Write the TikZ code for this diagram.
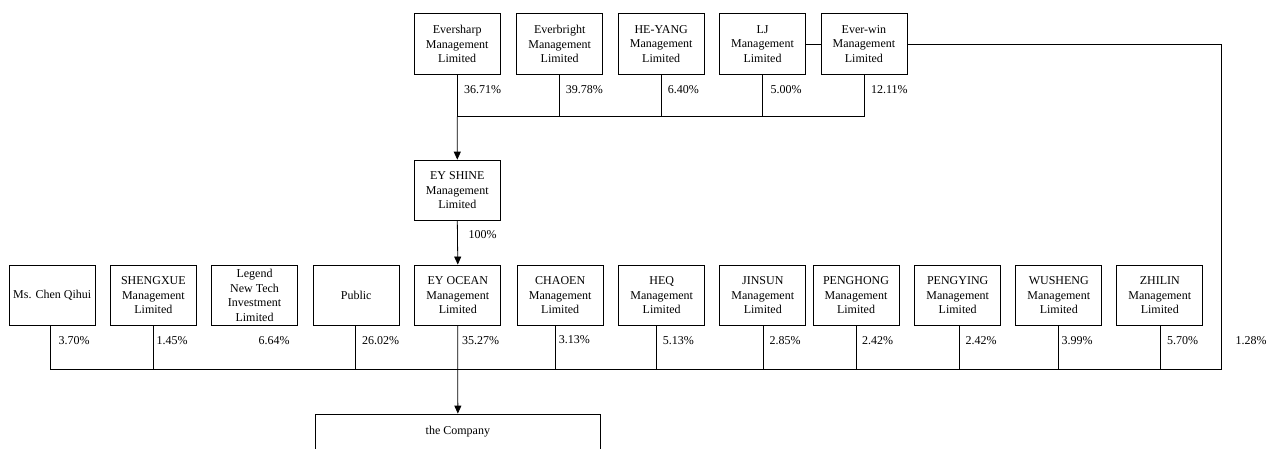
\documentclass[tikz,border=0pt]{standalone}
\usepackage{fontspec}
\setmainfont{Liberation Serif}
\usetikzlibrary{arrows.meta}
\begin{document}
\begin{tikzpicture}[x=1pt,y=-1pt,
  txt/.style={font=\fontsize{12}{14.5}\selectfont},
  box/.style={draw, line width=0.8pt, minimum width=86pt, minimum height=60.5pt, inner sep=0pt, align=center, txt},
  pct/.style={inner sep=0pt, txt},
  ln/.style={line width=0.8pt},
  arr/.style={line width=0.8pt, -{Triangle[length=8pt,width=7pt]}}]
\useasboundingbox (0,0) rectangle (1266,448);
\fill[white] (0,0) rectangle (1266,448);

% top row
\node[box] (evs) at (457.2,44) {Eversharp\\Management\\Limited};
\node[box] (evb) at (559.7,44) {Everbright\\Management\\Limited};
\node[box] (hey) at (661.2,44) {HE-YANG\\Management\\Limited};
\node[box] (lj)  at (762.5,44) {LJ\\Management\\Limited};
\node[box] (evw) at (863.9,44) {Ever-win\\Management\\Limited};

\coordinate (tb) at (0,116.7);
\coordinate (rc) at (1221.7,44);
\coordinate (bb) at (0,369);

\draw[ln] (evs.south) -- (evs.south |- tb) -- (evw.south |- tb) -- (evw.south);
\draw[ln] (evb.south) -- (evb.south |- tb);
\draw[ln] (hey.south) -- (hey.south |- tb);
\draw[ln] (lj.south) -- (lj.south |- tb);
\draw[ln] (lj.east) -- (evw.west);

\node[pct] (p1) at (482.7,89.3) {36.71\%};
\node[pct] (p2) at (584.3,89.3) {39.78\%};
\node[pct] (p3) at (683.3,89.3) {6.40\%};
\node[pct] (p4) at (786,89.3) {5.00\%};
\node[pct] (p5) at (889.3,89.3) {12.11\%};

% middle
\node[box] (shine) at (457.3,190.3) {EY SHINE\\Management\\Limited};
\draw[arr] (evs.south |- tb) -- (shine.north);
\node[pct] (p6) at (482.7,235) {100\%};

% bottom row
\node[box, minimum height=60.7pt] (mschen)   at (52.2,295.3)  {Ms. Chen Qihui};
\node[box, minimum height=60.7pt] (sheng)    at (153.4,295.3) {SHENGXUE\\Management\\Limited};
\node[box, minimum height=60.7pt] (legend)   at (254.5,295.3) {Legend\\New Tech\\Investment\\Limited};
\node[box, minimum height=60.7pt] (public)   at (356.2,295.3) {Public};
\node[box, minimum height=60.7pt] (ocean)    at (457.8,295.3) {EY OCEAN\\Management\\Limited};
\node[box, minimum height=60.7pt] (chaoen)   at (560.2,295.3) {CHAOEN\\Management\\Limited};
\node[box, minimum height=60.7pt] (heq)      at (661.7,295.3) {HEQ\\Management\\Limited};
\node[box, minimum height=60.7pt] (jinsun)   at (762.8,295.3) {JINSUN\\Management\\Limited};
\node[box, minimum height=60.7pt] (penghong) at (856,295.3)   {PENGHONG\\Management\\Limited};
\node[box, minimum height=60.7pt] (pengying) at (957.7,295.3) {PENGYING\\Management\\Limited};
\node[box, minimum height=60.7pt] (wusheng)  at (1058.8,295.3){WUSHENG\\Management\\Limited};
\node[box, minimum height=60.7pt] (zhilin)   at (1159.8,295.3){ZHILIN\\Management\\Limited};

\draw[arr] (shine.south) -- (ocean.north);

% bottom bus and right line
\draw[ln] (evw.east) -- (rc) -- (rc |- bb) -- ([xshift=-1.5pt]mschen.south |- bb) -- ([xshift=-1.5pt]mschen.south);
\draw[ln] (sheng.south) -- (sheng.south |- bb);
\draw[ln] ([xshift=-1.2pt]public.south) -- ([xshift=-1.2pt]public.south |- bb);
\draw[ln] ([xshift=-4.5pt]chaoen.south) -- ([xshift=-4.5pt]chaoen.south |- bb);
\draw[ln] ([xshift=-5pt]heq.south) -- ([xshift=-5pt]heq.south |- bb);
\draw[ln] ([xshift=0.5pt]jinsun.south) -- ([xshift=0.5pt]jinsun.south |- bb);
\draw[ln] ([xshift=0.7pt]penghong.south) -- ([xshift=0.7pt]penghong.south |- bb);
\draw[ln] ([xshift=1.6pt]pengying.south) -- ([xshift=1.6pt]pengying.south |- bb);
\draw[ln] ([xshift=-0.5pt]wusheng.south) -- ([xshift=-0.5pt]wusheng.south |- bb);
\draw[ln] ([xshift=0.5pt]zhilin.south) -- ([xshift=0.5pt]zhilin.south |- bb);

\node[pct] (q1)  at (74,341)    {3.70\%};
\node[pct] (q2)  at (172,341)   {1.45\%};
\node[pct] (q3)  at (274,341)   {6.64\%};
\node[pct] (q4)  at (380.7,341) {26.02\%};
\node[pct] (q5)  at (480.7,341) {35.27\%};
\node[pct] (q6)  at (574.3,340) {3.13\%};
\node[pct] (q7)  at (678.3,341) {5.13\%};
\node[pct] (q8)  at (785,341)   {2.85\%};
\node[pct] (q9)  at (877.7,341) {2.42\%};
\node[pct] (q10) at (981,341)   {2.42\%};
\node[pct] (q11) at (1077,341)  {3.99\%};
\node[pct] (q12) at (1182.7,341){5.70\%};
\node[pct] (q13) at (1251,341)  {1.28\%};

% the company
\node[draw, line width=0.8pt, minimum width=285.7pt, minimum height=35.5pt, inner sep=0pt, txt] (company) at (457.85,431.75) {the Company};
\draw[arr] (ocean.south) -- (company.north);
\end{tikzpicture}
\end{document}
